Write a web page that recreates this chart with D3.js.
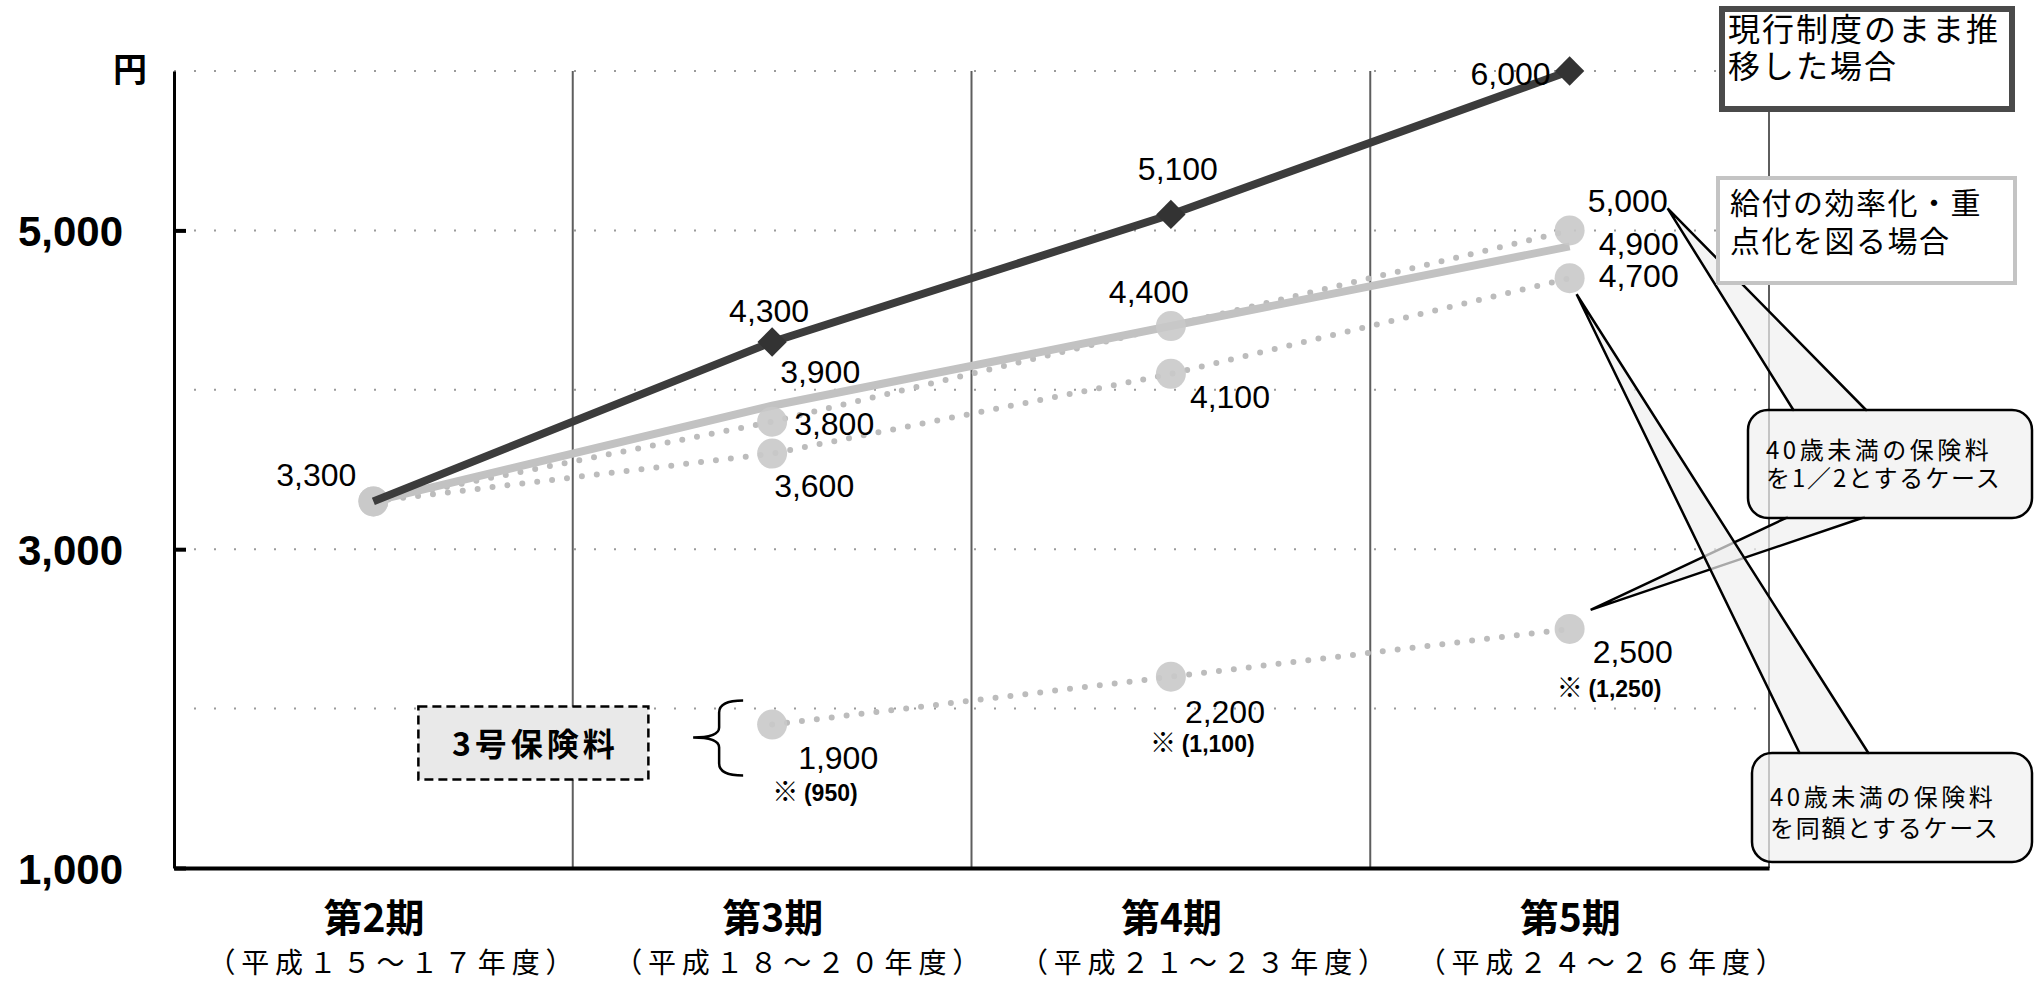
<!DOCTYPE html>
<html>
<head>
<meta charset="utf-8">
<script src="https://cdn.jsdelivr.net/npm/d3@7"></script>
<style>
  body { margin: 0; background: #fff; }
  svg { display: block; }
  text { font-family: "Liberation Sans", Arial, sans-serif; fill: #000; }
  .jp { font-family: "Noto Sans CJK JP", sans-serif; }
</style>
</head>
<body>
<svg id="chart"></svg>
<script>
// chart values
const periods = ["第2期", "第3期", "第4期", "第5期"];
const periodYears = ["（平成１５～１７年度）", "（平成１８～２０年度）", "（平成２１～２３年度）", "（平成２４～２６年度）"];
const current = [3300, 4300, 5100, 6000];     // 現行制度のまま推移した場合
const efficient = [3300, 3900, 4400, 4900];   // 給付の効率化・重点化を図る場合
const halfCase = [3300, 3800, 4400, 5000];    // 40歳未満の保険料を1/2とするケース
const sameCase = [3300, 3600, 4100, 4700];    // 40歳未満の保険料を同額とするケース
const type3 = [null, 1900, 2200, 2500];       // 3号保険料
const type3Half = [null, 950, 1100, 1250];    // ※ (…)
const yTickLabels = [1000, 3000, 5000];
const yGrid = [2000, 3000, 4000, 5000, 6000];

document.addEventListener("DOMContentLoaded", () => {
  const width = 2034, height = 983;
  const fmt = d3.format(",");

  const svg = d3.select("#chart").attr("width", width).attr("height", height);

  // four equal period bands, points in the middle of each band
  const x = d3.scaleLinear().domain([0, periods.length]).range([174, 1769]);
  const y = d3.scaleLinear().domain([1000, 6000]).range([868, 71]);
  const cx = i => x(i + 0.5);

  // grid
  svg.append("g").selectAll("line")
    .data(yGrid).enter().append("line")
    .attr("x1", x(0)).attr("x2", x(4))
    .attr("y1", d => y(d)).attr("y2", d => y(d))
    .attr("stroke", "#9a9a9a").attr("stroke-width", 2)
    .attr("stroke-dasharray", "2,18");

  svg.append("g").selectAll("line")
    .data([1, 2, 3, 4]).enter().append("line")
    .attr("x1", d => x(d)).attr("x2", d => x(d))
    .attr("y1", y(6000)).attr("y2", y(1000))
    .attr("stroke", "#5e5e5e").attr("stroke-width", 2);

  // y axis
  const yAxis = svg.append("g")
    .attr("transform", `translate(${x(0)},0)`)
    .call(d3.axisLeft(y).tickValues(yTickLabels).tickFormat(fmt).tickSize(-12).tickSizeOuter(0).tickPadding(51));
  yAxis.select(".domain").attr("stroke", "#000").attr("stroke-width", 3);
  yAxis.selectAll(".tick line").attr("stroke", "#000").attr("stroke-width", 4);
  yAxis.selectAll(".tick text")
    .style("font-size", "42px").style("font-weight", "bold")
    .attr("dy", "0.36em");

  svg.append("text").attr("class", "jp")
    .attr("x", 147).attr("y", 82).attr("text-anchor", "end")
    .style("font-size", "34px").style("font-weight", "bold")
    .text("円");

  // x axis
  const xAxis = svg.append("g")
    .attr("transform", `translate(0,${y(1000)})`)
    .call(d3.axisBottom(x).tickValues(periods.map((d, i) => i + 0.5))
      .tickFormat((d, i) => periods[i]).tickSize(0).tickPadding(36));
  xAxis.select(".domain").attr("stroke", "#000").attr("stroke-width", 4);
  xAxis.selectAll(".tick text")
    .attr("class", "jp").attr("dy", "0.72em")
    .style("font-size", "39px").style("font-weight", "bold");

  // year ranges sit a little right of the period names
  const yearShift = [20, 28, 35, 34];
  svg.append("g").selectAll("text")
    .data(periodYears).enter().append("text")
    .attr("class", "jp")
    .attr("x", (d, i) => cx(i) + yearShift[i]).attr("y", 973)
    .attr("text-anchor", "middle")
    .style("font-size", "28px").style("letter-spacing", "5.8px")
    .text(d => d);

  const line = d3.line()
    .defined(d => d != null)
    .x((d, i) => cx(i))
    .y(d => y(d));

  // dotted series
  [sameCase, halfCase, type3].forEach(s => {
    svg.append("path")
      .attr("d", line(s))
      .attr("fill", "none").attr("stroke", "#bcbcbc").attr("stroke-width", 6)
      .attr("stroke-linecap", "round").attr("stroke-dasharray", "0,15");
  });

  // efficient case thick light line
  svg.append("path")
    .attr("d", line(efficient))
    .attr("fill", "none").attr("stroke", "#c2c2c2").attr("stroke-width", 8);

  // circle markers
  [sameCase, halfCase, type3].forEach(s => {
    svg.append("g").selectAll("circle")
      .data(s.map((v, i) => ({ v, i })).filter(d => d.v != null))
      .enter().append("circle")
      .attr("cx", d => cx(d.i)).attr("cy", d => y(d.v)).attr("r", 15)
      .attr("fill", "#c9c9c9").attr("fill-opacity", 0.9);
  });

  // current system line with diamonds
  svg.append("path")
    .attr("d", line(current))
    .attr("fill", "none").attr("stroke", "#3c3c3c").attr("stroke-width", 8);

  const diamond = d3.symbol().type(d3.symbolSquare).size(430);
  svg.append("g").selectAll("path")
    .data(current.slice(1).map((v, i) => ({ v, i: i + 1 })))
    .enter().append("path")
    .attr("d", diamond)
    .attr("transform", d => `translate(${cx(d.i)},${y(d.v)}) rotate(45)`)
    .attr("fill", "#333");

  // value labels
  const labelSpecs = [
    { s: current, i: 0, a: "end", dx: -17, dy: -15 },
    { s: current, i: 1, a: "middle", dx: -3, dy: -20 },
    { s: current, i: 2, a: "middle", dx: 7, dy: -34 },
    { s: current, i: 3, a: "end", dx: -19, dy: 14 },
    { s: efficient, i: 1, a: "start", dx: 8, dy: -23 },
    { s: halfCase, i: 1, a: "start", dx: 22, dy: 13 },
    { s: sameCase, i: 1, a: "start", dx: 2, dy: 43 },
    { s: halfCase, i: 2, a: "middle", dx: -22, dy: -23 },
    { s: sameCase, i: 2, a: "start", dx: 19, dy: 34 },
    { s: halfCase, i: 3, a: "start", dx: 18, dy: -18 },
    { s: efficient, i: 3, a: "start", dx: 29, dy: 9 },
    { s: sameCase, i: 3, a: "start", dx: 29, dy: 9 },
    { s: type3, i: 1, a: "start", dx: 26, dy: 44 },
    { s: type3, i: 2, a: "start", dx: 14, dy: 46 },
    { s: type3, i: 3, a: "start", dx: 23, dy: 34 }
  ];
  svg.append("g").selectAll("text")
    .data(labelSpecs).enter().append("text")
    .attr("x", d => cx(d.i) + d.dx).attr("y", d => y(d.s[d.i]) + d.dy)
    .attr("text-anchor", d => d.a)
    .style("font-size", "32px")
    .text(d => fmt(d.s[d.i]));

  // ※ (half of 3号) labels
  const noteOffsets = [null, { dx: 0, dy: 76 }, { dx: -21, dy: 75 }, { dx: -13, dy: 68 }];
  const notes = svg.append("g").selectAll("text")
    .data(type3Half.map((v, i) => ({ v, i })).filter(d => d.v != null))
    .enter().append("text")
    .attr("x", d => cx(d.i) + noteOffsets[d.i].dx)
    .attr("y", d => y(type3[d.i]) + noteOffsets[d.i].dy);
  notes.append("tspan").attr("class", "jp").style("font-size", "26px").text("※ ");
  notes.append("tspan").style("font-size", "23px").style("font-weight", "bold")
    .text(d => `(${fmt(d.v)})`);

  // 3号保険料 box and brace
  const bx = cx(0) + 45, by = y(2000) - 2;
  svg.append("rect")
    .attr("x", bx).attr("y", by).attr("width", 230).attr("height", 73)
    .attr("fill", "#e9e9e9").attr("stroke", "#000").attr("stroke-width", 2.5)
    .attr("stroke-dasharray", "9,5");
  svg.append("text").attr("class", "jp")
    .attr("x", bx + 117).attr("y", by + 49).attr("text-anchor", "middle")
    .style("font-size", "32px").style("font-weight", "bold").style("letter-spacing", "4px")
    .text("3号保険料");

  const brx = cx(1) - 29, bry = y(2000) - 8;
  svg.append("path")
    .attr("d", `M${brx},${bry} Q${brx - 24},${bry} ${brx - 24},${bry + 12} L${brx - 24},${bry + 27}
      Q${brx - 24},${bry + 37} ${brx - 50},${bry + 37} Q${brx - 24},${bry + 37} ${brx - 24},${bry + 47}
      L${brx - 24},${bry + 63} Q${brx - 24},${bry + 75} ${brx},${bry + 75}`)
    .attr("fill", "none").attr("stroke", "#000").attr("stroke-width", 2.5);

  // multi-line text in one element
  function block(tx, ty, lh, size, lines) {
    const t = svg.append("text").attr("class", "jp").style("font-size", size + "px");
    lines.forEach((l, i) => {
      t.append("tspan").attr("x", tx).attr("y", ty + i * lh)
        .style("letter-spacing", l[1] + "px").text(l[0]);
    });
  }

  // callouts
  const calloutFill = "#efefef";
  const wedge = (b1, b2, ap) => `M${b1[0]},${b1[1]} L${ap[0]},${ap[1]} L${b2[0]},${b2[1]}`;
  const wedges = [
    [[1794, 411], [1867, 411], [cx(3) + 98, y(5000) - 22]],
    [[1788, 517], [1865, 517], [cx(3) + 21, y(2500) - 19]],
    [[1800, 754], [1869, 754], [cx(3) + 7, y(4700) + 16]]
  ];
  svg.append("g").selectAll("path")
    .data(wedges).enter().append("path")
    .attr("d", d => wedge(d[0], d[1], d[2]))
    .attr("fill", calloutFill).attr("fill-opacity", 0.7)
    .attr("stroke", "#000").attr("stroke-width", 2.5);

  const calloutBoxes = [
    { x: 1748, y: 410, w: 284, h: 108, lines: [["40歳未満の保険料", 3.5], ["を1／2とするケース", 1.9]], tx: 1766, ty: 459, lh: 28 },
    { x: 1752, y: 753, w: 280, h: 109, lines: [["40歳未満の保険料", 3.5], ["を同額とするケース", 1.7]], tx: 1770, ty: 806, lh: 31 }
  ];
  calloutBoxes.forEach(b => {
    svg.append("rect")
      .attr("x", b.x).attr("y", b.y).attr("width", b.w).attr("height", b.h)
      .attr("rx", 20)
      .attr("fill", calloutFill).attr("fill-opacity", 0.7)
      .attr("stroke", "#000").attr("stroke-width", 2.5);
    block(b.tx, b.ty, b.lh, 24, b.lines);
  });

  // legend boxes
  svg.append("rect")
    .attr("x", 1718).attr("y", 178).attr("width", 297).attr("height", 105)
    .attr("fill", "#fff").attr("stroke", "#c4c4c4").attr("stroke-width", 4);
  block(1730, 214, 38, 30, [["給付の効率化・重", 1.5], ["点化を図る場合", 1.5]]);

  svg.append("rect")
    .attr("x", 1722).attr("y", 9).attr("width", 290).attr("height", 100)
    .attr("fill", "#fff").attr("stroke", "#4a4a4a").attr("stroke-width", 6);
  block(1728, 41, 37, 32, [["現行制度のまま推", 2], ["移した場合", 2]]);
});
</script>
</body>
</html>
